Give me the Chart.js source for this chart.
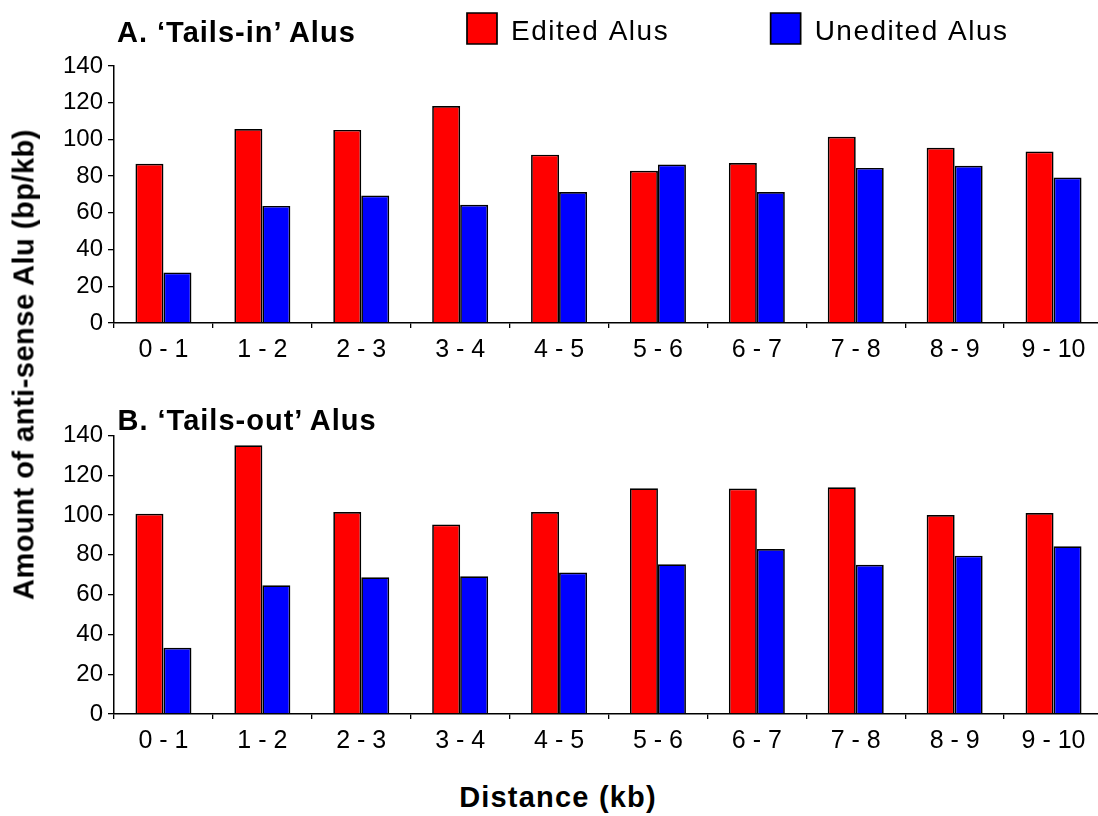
<!DOCTYPE html>
<html>
<head>
<meta charset="utf-8">
<script src="https://cdn.jsdelivr.net/npm/chart.js@4.4.1/dist/chart.umd.min.js"></script>
<style>
  body { margin: 0; background: #fff; overflow: hidden; width: 1098px; height: 816px; position: relative; }
  .box { position: absolute; left: 0; }
  .txt { position: absolute; font-family: "Liberation Sans", Arial, sans-serif; font-weight: bold; color: #000; white-space: nowrap; line-height: 29px; font-size: 29px; }
</style>
</head>
<body>

<div class="box" style="top:0px"><canvas id="chartA" width="1104" height="368"></canvas></div>
<div class="box" style="top:380px"><canvas id="chartB" width="1104" height="379"></canvas></div>

<div class="txt" style="left:117px; top:18px; letter-spacing:1px;">A. ‘Tails-in’ Alus</div>
<div class="txt" style="left:117.5px; top:405.5px; letter-spacing:1px;">B. ‘Tails-out’ Alus</div>
<div class="txt" style="left:358px; top:782.5px; width:400px; text-align:center; letter-spacing:1.2px;">Distance (kb)</div>
<div class="txt" style="left:-276px; top:349.5px; width:600px; text-align:center; letter-spacing:0.5px; transform:rotate(-90deg);">Amount of anti-sense Alu (bp/kb)</div>

<script>
// distance bins (kb)
var categories = ['0 - 1', '1 - 2', '2 - 3', '3 - 4', '4 - 5', '5 - 6', '6 - 7', '7 - 8', '8 - 9', '9 - 10'];

// A. tails-in
var tailsInEdited   = [86.7, 105.7, 105.2, 118.2, 91.7, 82.9, 87.1, 101.5, 95.5, 93.4];
var tailsInUnedited = [27.5, 63.8, 69.4, 64.4, 71.3, 86.3, 71.3, 84.5, 85.7, 79.2];

// B. tails-out
var tailsOutEdited   = [100.7, 135.1, 101.5, 95.2, 101.5, 113.5, 113.3, 114.0, 100.0, 101.0];
var tailsOutUnedited = [33.3, 64.7, 68.7, 69.2, 71.1, 75.3, 82.9, 75.0, 79.6, 84.3];

// y axis ticks
var yMin = 0;
var yMax = 140;
var yStep = 20;

var seriesNames = ['Edited Alus', 'Unedited Alus'];
var seriesColors = ['#ff0000', '#0000ff'];

var fontFamily = '"Liberation Sans", Arial, sans-serif';

// moves the legend up beside the panel A title
var legendPlace = {
  id: 'legendPlace',
  afterLayout: function (chart) {
    var lg = chart.legend;
    if (!lg || !lg.options.display) return;
    var pad = lg.options.labels.padding;
    lg.left = 467 - pad;
    lg.top = 13 - pad;
    lg.right = 1500;
    lg.bottom = 60;
    lg.width = lg.right - lg.left;
    lg.height = lg.bottom - lg.top;
    if (!lg._spaced) {
      var origDraw = lg.draw;
      lg.draw = function () {
        var c = this.ctx;
        var origFill = c.fillText;
        c.save();
        c.letterSpacing = '1.5px';
        // text sits a bit lower than the box centre in the original
        c.fillText = function (t, x, y, m) {
          return origFill.call(this, t, x, y + 4, m);
        };
        origDraw.apply(this, arguments);
        c.fillText = origFill;
        c.restore();
      };
      lg._spaced = true;
    }
  }
};

function makeDatasets(edited, unedited) {
  return [edited, unedited].map(function (vals, i) {
    return {
      label: seriesNames[i],
      data: vals,
      backgroundColor: seriesColors[i],
      borderColor: '#000',
      borderWidth: 1.7,
      categoryPercentage: 0.566,
      barPercentage: 1.0
    };
  });
}

function makeOptions(topPad, showLegend) {
  return {
    responsive: false,
    animation: false,
    layout: { padding: { top: topPad, right: 1, left: 0, bottom: 0 } },
    plugins: {
      tooltip: { enabled: false },
      title: { display: false },
      legend: {
        display: showLegend,
        position: 'chartArea',
        align: 'start',
        labels: {
          boxWidth: 30,
          boxHeight: 31,
          padding: 118,
          color: '#000',
          font: { family: fontFamily, size: 28 }
        }
      }
    },
    scales: {
      x: {
        grid: { display: true, drawOnChartArea: false, drawTicks: true, tickLength: 5, color: '#000', lineWidth: 1.3, offset: true },
        border: { display: true, color: '#000', width: 1.5 },
        ticks: { color: '#000', font: { family: fontFamily, size: 25 }, padding: 7, maxRotation: 0, autoSkip: false },
        afterFit: function (scale) { scale.height = 45; }
      },
      y: {
        min: yMin,
        max: yMax,
        grid: { display: true, drawOnChartArea: false, drawTicks: true, tickLength: 6, color: '#000', lineWidth: 1.3 },
        border: { display: true, color: '#000', width: 1.5 },
        ticks: { stepSize: yStep, color: '#000', font: { family: fontFamily, size: 24 }, padding: 5 },
        afterFit: function (scale) { scale.width = 114; }
      }
    }
  };
}

new Chart(document.getElementById('chartA'), {
  type: 'bar',
  data: { labels: categories, datasets: makeDatasets(tailsInEdited, tailsInUnedited) },
  options: makeOptions(66, true),
  plugins: [legendPlace]
});

new Chart(document.getElementById('chartB'), {
  type: 'bar',
  data: { labels: categories, datasets: makeDatasets(tailsOutEdited, tailsOutUnedited) },
  options: makeOptions(55.5, false)
});
</script>
</body>
</html>
